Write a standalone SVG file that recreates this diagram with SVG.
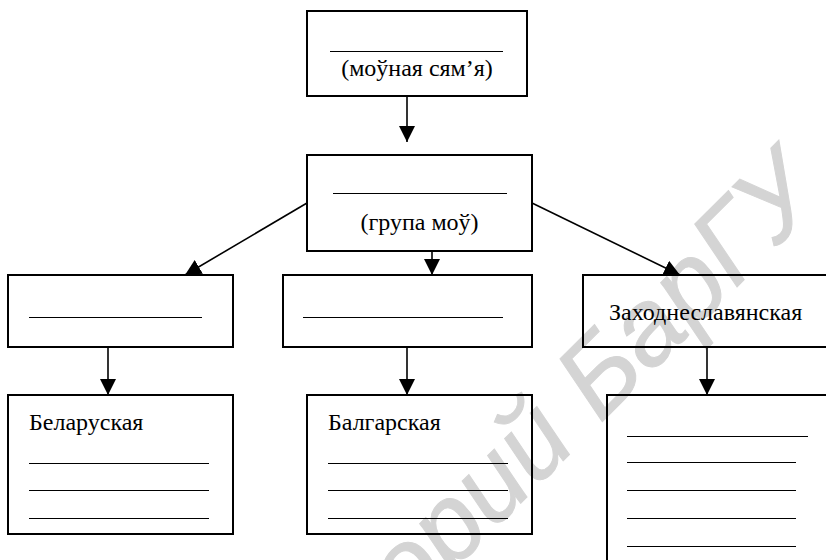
<svg xmlns="http://www.w3.org/2000/svg" width="826" height="560" viewBox="0 0 826 560">
<defs>
<style>
.box{fill:none;stroke:#000;stroke-width:2}
.ul{stroke:#000;stroke-width:1}
.t{font-family:'Liberation Serif','DejaVu Serif',serif;font-size:24px;fill:#000}
.c{stroke:#000;stroke-width:1.6;fill:none;marker-end:url(#ah)}
.wm{font-family:'Liberation Sans','DejaVu Sans',sans-serif;font-style:italic;font-size:108px;fill:#d4d4d4;stroke:#d4d4d4;stroke-width:1}
</style>
<marker id="ah" viewBox="0 0 16 16" refX="16" refY="8" markerWidth="16" markerHeight="16" markerUnits="userSpaceOnUse" orient="auto">
<path d="M0,0 L16,8 L0,16 Z" fill="#000"/>
</marker>
</defs>
<rect width="826" height="560" fill="#fff"/>
<g id="watermark">
<text class="wm" font-family="Liberation Sans, DejaVu Sans, sans-serif" font-style="italic" transform="translate(600,424) rotate(-45)" x="-30" y="0" text-anchor="end">Репозиторий</text>
<text class="wm" font-family="Liberation Sans, DejaVu Sans, sans-serif" font-style="italic" transform="translate(600,424) rotate(-45)" x="0" y="0">БарГУ</text>
</g>
<g id="connectors">
<line class="c" x1="407" y1="96" x2="407" y2="142"/>
<line class="c" x1="307" y1="203" x2="185" y2="275"/>
<line class="c" x1="432" y1="251" x2="432" y2="275"/>
<line class="c" x1="532" y1="203" x2="680" y2="275"/>
<line class="c" x1="108" y1="347" x2="108" y2="395"/>
<line class="c" x1="407" y1="347" x2="407" y2="395"/>
<line class="c" x1="707" y1="347" x2="707" y2="395"/>
</g>
<g id="family">
<rect class="box" x="307" y="11" width="220" height="85"/>
<line class="ul" x1="330" y1="51.5" x2="503" y2="51.5"/>
<text class="t" font-family="Liberation Serif, DejaVu Serif, serif" x="417" y="76" text-anchor="middle">(моўная сям’я)</text>
</g>
<g id="group">
<rect class="box" x="307" y="155" width="225" height="96"/>
<line class="ul" x1="333" y1="193.5" x2="507" y2="193.5"/>
<text class="t" font-family="Liberation Serif, DejaVu Serif, serif" x="419.5" y="230" text-anchor="middle">(група моў)</text>
</g>
<g id="sub-left">
<rect class="box" x="8" y="275" width="225" height="72"/>
<line class="ul" x1="29" y1="317.5" x2="202" y2="317.5"/>
</g>
<g id="sub-middle">
<rect class="box" x="283" y="275" width="249" height="72"/>
<line class="ul" x1="303" y1="317.5" x2="503" y2="317.5"/>
</g>
<g id="sub-west">
<rect class="box" x="583" y="275" width="260" height="72"/>
<text class="t" font-family="Liberation Serif, DejaVu Serif, serif" x="609" y="320">Заходнеславянская</text>
</g>
<g id="belarusian">
<rect class="box" x="8" y="395" width="225" height="139"/>
<text class="t" font-family="Liberation Serif, DejaVu Serif, serif" x="29" y="430">Беларуская</text>
<line class="ul" x1="29" y1="463.5" x2="209" y2="463.5"/>
<line class="ul" x1="29" y1="490.5" x2="209" y2="490.5"/>
<line class="ul" x1="29" y1="518.5" x2="209" y2="518.5"/>
</g>
<g id="bulgarian">
<rect class="box" x="307" y="395" width="225" height="139"/>
<text class="t" font-family="Liberation Serif, DejaVu Serif, serif" x="328" y="430">Балгарская</text>
<line class="ul" x1="328" y1="463.5" x2="508" y2="463.5"/>
<line class="ul" x1="328" y1="490.5" x2="508" y2="490.5"/>
<line class="ul" x1="328" y1="518.5" x2="508" y2="518.5"/>
</g>
<g id="west-list">
<rect class="box" x="607" y="395" width="240" height="200"/>
<line class="ul" x1="627" y1="436.5" x2="808" y2="436.5"/>
<line class="ul" x1="627" y1="462.5" x2="796" y2="462.5"/>
<line class="ul" x1="627" y1="490.5" x2="796" y2="490.5"/>
<line class="ul" x1="627" y1="518.5" x2="796" y2="518.5"/>
<line class="ul" x1="627" y1="546.5" x2="796" y2="546.5"/>
</g>
</svg>
